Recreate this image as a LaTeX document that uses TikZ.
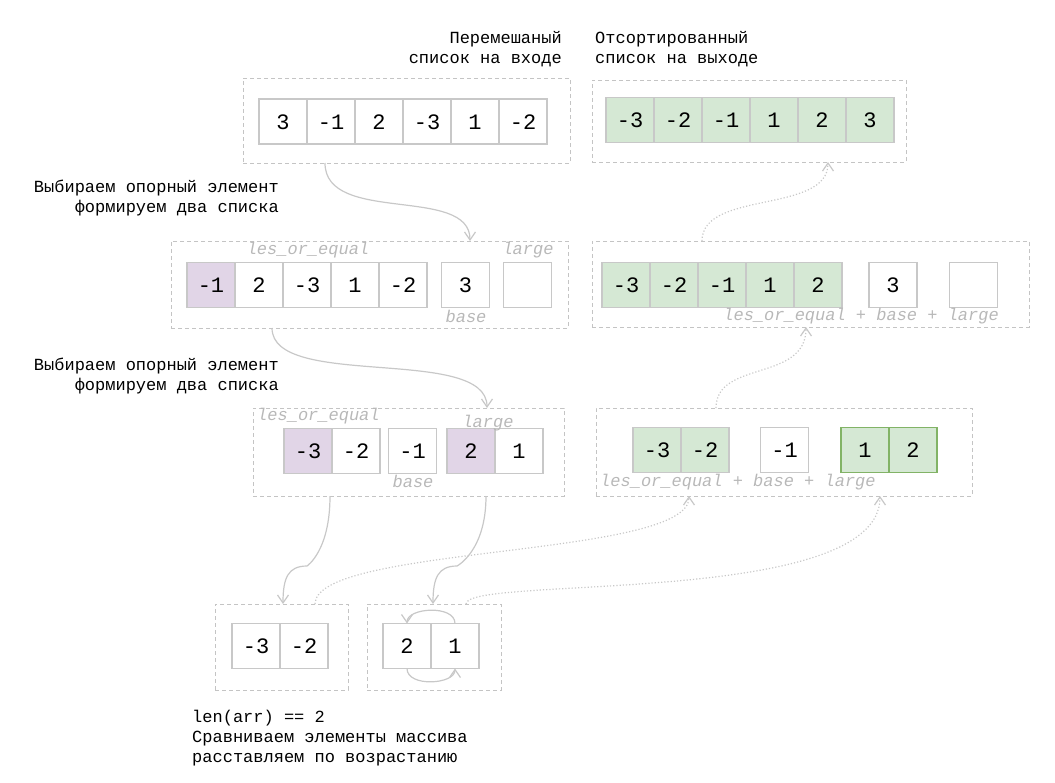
\documentclass[tikz,border=0pt]{standalone}
\usepackage{fontspec}
\setmainfont{Liberation Mono}
\usetikzlibrary{arrows.meta}
\definecolor{edge}{HTML}{C8C8C8}
\definecolor{frameline}{HTML}{C4C4C4}
\definecolor{note}{HTML}{B8B8B8}
\definecolor{pfill}{HTML}{E1D5E7}
\definecolor{gfill}{HTML}{D5E8D4}
\definecolor{gline}{HTML}{82B366}
\tikzset{
  frame/.style={draw=frameline, line width=0.9pt, dash pattern=on 4pt off 3pt,
    inner sep=0pt, outer sep=0pt},
  cell/.style={draw=edge, line width=1.1pt, fill=white, minimum width=48pt,
    minimum height=45pt, inner sep=0pt, outer sep=0pt,
    text height=15pt, text depth=0pt,
    font=\fontsize{22}{24}\selectfont},
  pcell/.style={cell, fill=pfill},
  gcell/.style={cell, fill=gfill},
  gcellb/.style={cell, fill=gfill, draw=gline},
  txt/.style={inner sep=0pt, font=\fontsize{17}{20}\selectfont},
  lbl/.style={inner sep=0pt, text=note, font=\fontsize{17}{20}\selectfont\itshape},
  flow/.style={draw=edge, line width=1.2pt, -{Straight Barb[length=8pt,width=11pt]}},
  back/.style={draw=edge, line width=1.2pt, dotted, -{Straight Barb[length=8pt,width=11pt]}},
}
\begin{document}
\begin{tikzpicture}[x=1pt,y=-1pt]
\useasboundingbox (0,0) rectangle (1055,782);

% dashed group frames
\node[frame, minimum width=327pt, minimum height=85pt] (f1) at (406.5,120.5) {};
\node[frame, minimum width=314pt, minimum height=82pt] (f2) at (749,121) {};
\node[frame, minimum width=397pt, minimum height=87pt] (f3) at (369.5,284.5) {};
\node[frame, minimum width=437pt, minimum height=86pt] (f4) at (810.5,284) {};
\node[frame, minimum width=311pt, minimum height=88pt] (f5) at (408.5,452) {};
\node[frame, minimum width=376pt, minimum height=88pt] (f6) at (784,452) {};
\node[frame, minimum width=133pt, minimum height=86pt] (f7) at (281.5,647) {};
\node[frame, minimum width=134pt, minimum height=86pt] (f8) at (434,647) {};

% captions
\node[txt, align=right, anchor=east] (tin) at (562,49) {Перемешаный\\список на входе};
\node[txt, align=left, anchor=west] (tout) at (595,49) {Отсортированный\\список на выходе};
\node[txt, align=right, anchor=east] (tpick1) at (279,198) {Выбираем опорный элемент\\формируем два списка};
\node[txt, align=right, anchor=east] (tpick2) at (279,376) {Выбираем опорный элемент\\формируем два списка};
\node[txt, align=left, anchor=west] (tlen) at (192,738) {len(arr) == 2\\Сравниваем элементы массива\\расставляем по возрастанию};

% input list
\node[cell] (a1) at (283,121.5) {3};
\node[cell] (a2) at (331,121.5) {-1};
\node[cell] (a3) at (379,121.5) {2};
\node[cell] (a4) at (427,121.5) {-3};
\node[cell] (a5) at (475,121.5) {1};
\node[cell] (a6) at (523,121.5) {-2};

% sorted output
\node[gcell] (b1) at (630,120) {-3};
\node[gcell] (b2) at (678,120) {-2};
\node[gcell] (b3) at (726,120) {-1};
\node[gcell] (b4) at (774,120) {1};
\node[gcell] (b5) at (822,120) {2};
\node[gcell] (b6) at (870,120) {3};

% first partition
\node[pcell] (c1) at (211,285) {-1};
\node[cell] (c2) at (259,285) {2};
\node[cell] (c3) at (307,285) {-3};
\node[cell] (c4) at (355,285) {1};
\node[cell] (c5) at (403,285) {-2};
\node[cell] (cb) at (465.5,285) {3};
\node[cell] (cl) at (527.5,285) {};
\node[lbl] (lc1) at (308,250) {les\_or\_equal};
\node[lbl] (lc2) at (528,250) {large};
\node[lbl] (lc3) at (466,316) {base};

% first merge
\node[gcell] (d1) at (626,285) {-3};
\node[gcell] (d2) at (674,285) {-2};
\node[gcell] (d3) at (722,285) {-1};
\node[gcell] (d4) at (770,285) {1};
\node[gcell] (d5) at (818,285) {2};
\node[cell] (db) at (893,285) {3};
\node[cell] (dl) at (973.5,285) {};
\node[lbl, anchor=east] (ld) at (999,316) {les\_or\_equal + base + large};

% second partition
\node[pcell] (e1) at (308,451) {-3};
\node[cell] (e2) at (356,451) {-2};
\node[cell] (eb) at (412.5,451) {-1};
\node[pcell] (e3) at (471,451) {2};
\node[cell] (e4) at (519,451) {1};
\node[lbl, anchor=west] (le1) at (257,416) {les\_or\_equal};
\node[lbl] (le2) at (488,423) {large};
\node[lbl] (le3) at (413,481) {base};

% second merge
\node[gcell] (g1) at (657,450) {-3};
\node[gcell] (g2) at (705,450) {-2};
\node[cell] (gb) at (784.5,450) {-1};
\node[gcellb] (g3) at (865,450) {1};
\node[gcellb] (g4) at (913,450) {2};
\node[lbl, anchor=west] (lg) at (600,482) {les\_or\_equal + base + large};

% two-element lists
\node[cell] (h1) at (256,646) {-3};
\node[cell] (h2) at (304,646) {-2};
\node[cell] (k1) at (407,646) {2};
\node[cell] (k2) at (455,646) {1};

% splitting steps
\draw[flow] ([xshift=82pt]f1.south west) .. controls +(0,62) and +(0,-56) .. ([xshift=299pt]f3.north west);
\draw[flow] ([xshift=101pt]f3.south west) .. controls +(0,62) and +(0,-63) .. ([xshift=234pt]f5.north west);
\draw[flow] ([xshift=77pt]f5.south west) .. controls +(0,55) and +(0,0) .. (307,566)
  .. controls (288,566) and (283,578) .. ([xshift=68pt]f7.north west);
\draw[flow] ([xshift=233pt]f5.south west) .. controls +(0,55) and +(0,0) .. (457,566)
  .. controls (438,566) and (433,578) .. ([xshift=66pt]f8.north west);

% merging steps
\draw[back] ([xshift=110pt]f4.north west) .. controls +(0,-51) and +(0,52) .. ([xshift=236pt]f2.south west);
\draw[back] ([xshift=120pt]f6.north west) .. controls +(0,-48) and +(0,55) .. ([xshift=214pt]f4.south west);
\draw[back] ([xshift=100pt]f7.north west) .. controls +(0,-59) and +(0,62) .. ([xshift=93pt]f6.south west);
\draw[back] ([xshift=99pt]f8.north west) .. controls +(0,-29) and +(0,112) .. ([xshift=284pt]f6.south west);

% swapping the pair
\draw[flow] (k2.north) .. controls +(0,-19) and +(0,-16) .. (k1.north);
\draw[flow] (k1.south) .. controls +(0,19) and +(0,16) .. (k2.south);
\end{tikzpicture}
\end{document}
